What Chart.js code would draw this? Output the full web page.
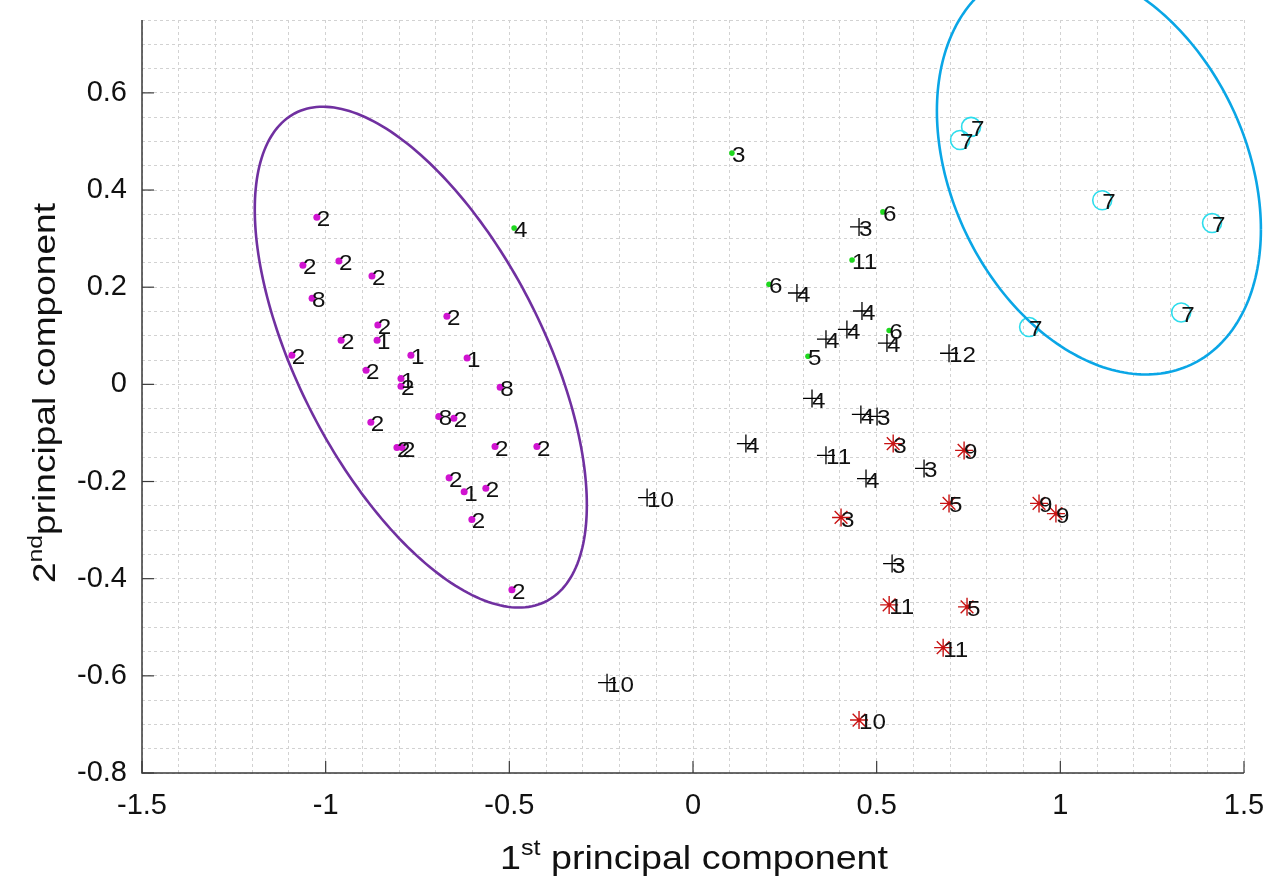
<!DOCTYPE html>
<html>
<head>
<meta charset="utf-8">
<script src="https://cdn.jsdelivr.net/npm/chart.js@4.4.1/dist/chart.umd.min.js"></script>
<style>
  html, body { margin: 0; padding: 0; background: #fff; }
  #wrap { width: 1277px; height: 878px; position: relative; }
</style>
</head>
<body>
<div id="wrap"><canvas id="pca"></canvas></div>
<script>
// group 1 (purple dots)
const purpleX = [-1.024,-1.062,-0.964,-0.874,-1.037,-0.670,-0.858,-0.860,-0.958,-1.092,-0.768,-0.615,-0.890,-0.795,-0.795,-0.525,-0.692,-0.651,-0.877,-0.806,-0.792,-0.539,-0.425,-0.664,-0.623,-0.564,-0.602,-0.493];
const purpleY = [0.344,0.245,0.254,0.223,0.177,0.140,0.122,0.091,0.091,0.060,0.060,0.054,0.029,0.012,-0.004,-0.006,-0.066,-0.070,-0.078,-0.130,-0.130,-0.128,-0.128,-0.192,-0.221,-0.214,-0.278,-0.423];
const purpleLab = ['2','2','2','2','8','2','2','1','2','2','1','1','2','1','2','8','8','2','2','2','2','2','2','2','1','2','2','2'];

// green dots
const greenX = [-0.487,0.106,0.517,0.433,0.207,0.534,0.313];
const greenY = [0.322,0.476,0.355,0.256,0.206,0.111,0.058];
const greenLab = ['4','3','6','11','6','6','5'];

// black plus
const plusX = [0.452,0.283,0.460,0.419,0.362,0.528,0.697,0.324,0.457,0.501,0.144,0.362,0.629,0.471,0.542,-0.125,-0.234];
const plusY = [0.324,0.188,0.151,0.113,0.093,0.085,0.064,-0.029,-0.062,-0.066,-0.122,-0.146,-0.173,-0.194,-0.369,-0.233,-0.614];
const plusLab = ['3','4','4','4','4','4','12','4','4','3','4','11','3','4','3','10','10'];

// red asterisks
const starX = [0.545,0.738,0.697,0.942,0.988,0.403,0.534,0.746,0.681,0.452];
const starY = [-0.122,-0.136,-0.245,-0.245,-0.266,-0.274,-0.454,-0.458,-0.542,-0.691];
const starLab = ['3','9','5','9','9','3','11','5','11','10'];

// cyan circles
const circX = [0.757,0.727,1.114,1.413,1.329,0.915];
const circY = [0.530,0.503,0.379,0.332,0.148,0.118];
const circLab = ['7','7','7','7','7','7'];

// ellipses: centre and covariance-like shape terms (data units)
const ellPurple = [-0.741, 0.056, 0.2043, 0.2657, -0.1375];
const ellCyan = [1.105, 0.441, 0.1945, 0.1769, -0.0538];

const xTickVals = [-1.5,-1,-0.5,0,0.5,1,1.5];
const xTickLabels = ['-1.5','-1','-0.5','0','0.5','1','1.5'];
const yTickVals = [-0.8,-0.6,-0.4,-0.2,0,0.2,0.4,0.6];
const yTickLabels = ['-0.8','-0.6','-0.4','-0.2','0','0.2','0.4','0.6'];

const FONT = '"Liberation Sans", Arial, sans-serif';

function pts(xs, ys) {
  return xs.map((x, i) => ({x: x, y: ys[i]}));
}

function gridTicks(min, max, step) {
  const out = [];
  const n = Math.round((max - min) / step);
  for (let i = 0; i <= n; i++) out.push({value: +(min + i * step).toFixed(4)});
  return out;
}

function majorLabel(v, vals, labs) {
  for (let i = 0; i < vals.length; i++) {
    if (Math.abs(vals[i] - v) < 1e-6) return labs[i];
  }
  return '';
}

const labelSets = [purpleLab, greenLab, plusLab, starLab, circLab];

const extras = {
  id: 'extras',
  afterDraw(chart) {
    const c = chart.ctx;
    const xs = chart.scales.x, ys = chart.scales.y;
    const a = chart.chartArea;

    // axis lines
    c.save();
    c.strokeStyle = '#3a3a3a';
    c.lineWidth = 1.5;
    c.beginPath();
    c.moveTo(a.left, a.top);
    c.lineTo(a.left, a.bottom);
    c.lineTo(a.right, a.bottom);
    c.stroke();
    // inward ticks
    c.lineWidth = 1.2;
    yTickVals.forEach(v => {
      const py = ys.getPixelForValue(v);
      c.beginPath(); c.moveTo(a.left, py); c.lineTo(a.left + 12, py); c.stroke();
    });
    xTickVals.forEach(v => {
      const px = xs.getPixelForValue(v);
      c.beginPath(); c.moveTo(px, a.bottom); c.lineTo(px, a.bottom - 12); c.stroke();
    });
    c.restore();

    // ellipses
    [[ellPurple, '#7030a0'], [ellCyan, '#0aa6e6']].forEach(([e, col]) => {
      const [cx, cy, sxx, syy, sxy] = e;
      const l11 = Math.sqrt(sxx), l21 = sxy / l11, l22 = Math.sqrt(syy - l21 * l21);
      c.save();
      c.strokeStyle = col;
      c.lineWidth = 2.6;
      c.beginPath();
      for (let k = 0; k <= 240; k++) {
        const t = k / 240 * Math.PI * 2;
        const dx = cx + l11 * Math.cos(t);
        const dy = cy + l21 * Math.cos(t) + l22 * Math.sin(t);
        const px = xs.getPixelForValue(dx), py = ys.getPixelForValue(dy);
        if (k === 0) c.moveTo(px, py); else c.lineTo(px, py);
      }
      c.stroke();
      c.restore();
    });

    // point labels
    c.save();
    c.fillStyle = '#111';
    c.font = '22px ' + FONT;
    c.textBaseline = 'middle';
    c.textAlign = 'left';
    labelSets.forEach((labs, di) => {
      const meta = chart.getDatasetMeta(di);
      meta.data.forEach((el, i) => {
        c.save();
        c.translate(el.x, el.y + 3);
        c.scale(1.1, 1);
        c.fillText(labs[i], 0, 0);
        c.restore();
      });
    });
    c.restore();

    // axis titles with superscripts
    const big = '33px ' + FONT, small = '22px ' + FONT;
    c.save();
    c.fillStyle = '#111';
    c.font = big;
    const w1 = c.measureText('1').width;
    const w3 = c.measureText(' principal component').width;
    c.font = small;
    const w2 = c.measureText('st').width;
    const sx = 388 / (w1 + w2 + w3);
    c.translate(500, 869);
    c.scale(sx, 1);
    c.textBaseline = 'alphabetic';
    c.textAlign = 'left';
    c.font = big; c.fillText('1', 0, 0);
    c.font = small; c.fillText('st', w1, -14);
    c.font = big; c.fillText(' principal component', w1 + w2, 0);
    c.restore();

    c.save();
    c.fillStyle = '#111';
    c.font = big;
    const v1 = c.measureText('2').width;
    const v3 = c.measureText('principal component').width;
    c.font = small;
    const v2 = c.measureText('nd').width;
    const sy = 380 / (v1 + v2 + v3);
    c.translate(55, 583);
    c.rotate(-Math.PI / 2);
    c.scale(sy, 0.95);
    c.textBaseline = 'alphabetic';
    c.textAlign = 'left';
    c.font = big; c.fillText('2', 0, 0);
    c.font = small; c.fillText('nd', v1, -14);
    c.font = big; c.fillText('principal component', v1 + v2, 0);
    c.restore();
  }
};

const chart = new Chart(document.getElementById('pca'), {
  type: 'scatter',
  data: {
    datasets: [
      { data: pts(purpleX, purpleY), pointStyle: 'circle', pointRadius: 3.5, backgroundColor: '#d014d0', borderColor: '#d014d0', borderWidth: 0 },
      { data: pts(greenX, greenY), pointStyle: 'circle', pointRadius: 2.8, backgroundColor: '#1fd81f', borderColor: '#1fd81f', borderWidth: 0 },
      { data: pts(plusX, plusY), pointStyle: 'cross', pointRadius: 9, borderColor: '#000', backgroundColor: '#000', borderWidth: 1.3 },
      { data: pts(starX, starY), pointStyle: 'star', pointRadius: 9, borderColor: '#c81212', backgroundColor: '#c81212', borderWidth: 1.4 },
      { data: pts(circX, circY), pointStyle: 'circle', pointRadius: 9.5, borderColor: '#2cdcec', backgroundColor: 'rgba(0,0,0,0)', borderWidth: 1.6 }
    ]
  },
  options: {
    responsive: true,
    maintainAspectRatio: false,
    animation: false,
    events: [],
    layout: { padding: { left: 0, top: 20, right: 33, bottom: 0 } },
    plugins: { legend: { display: false }, tooltip: { enabled: false } },
    scales: {
      x: {
        type: 'linear', min: -1.5, max: 1.5,
        afterBuildTicks: s => { s.ticks = gridTicks(-1.5, 1.5, 0.1); },
        afterFit: s => { s.height = 105; s.paddingLeft = 0; s.paddingRight = 0; },
        grid: { color: '#d2d2d2', lineWidth: 1, drawTicks: false },
        border: { display: false, dash: [3, 3] },
        ticks: {
          autoSkip: false, maxRotation: 0, padding: 16, color: '#111',
          font: { size: 29, family: FONT },
          callback: v => majorLabel(v, xTickVals, xTickLabels)
        }
      },
      y: {
        type: 'linear', min: -0.8, max: 0.75,
        afterBuildTicks: s => { s.ticks = gridTicks(-0.8, 0.75, 0.05); },
        afterFit: s => { s.width = 142; s.paddingTop = 0; s.paddingBottom = 0; },
        grid: { color: '#d2d2d2', lineWidth: 1, drawTicks: false },
        border: { display: false, dash: [3, 3] },
        ticks: {
          autoSkip: false, padding: 15, color: '#111',
          font: { size: 29, family: FONT },
          callback: v => majorLabel(v, yTickVals, yTickLabels)
        }
      }
    }
  },
  plugins: [extras]
});
</script>
</body>
</html>
